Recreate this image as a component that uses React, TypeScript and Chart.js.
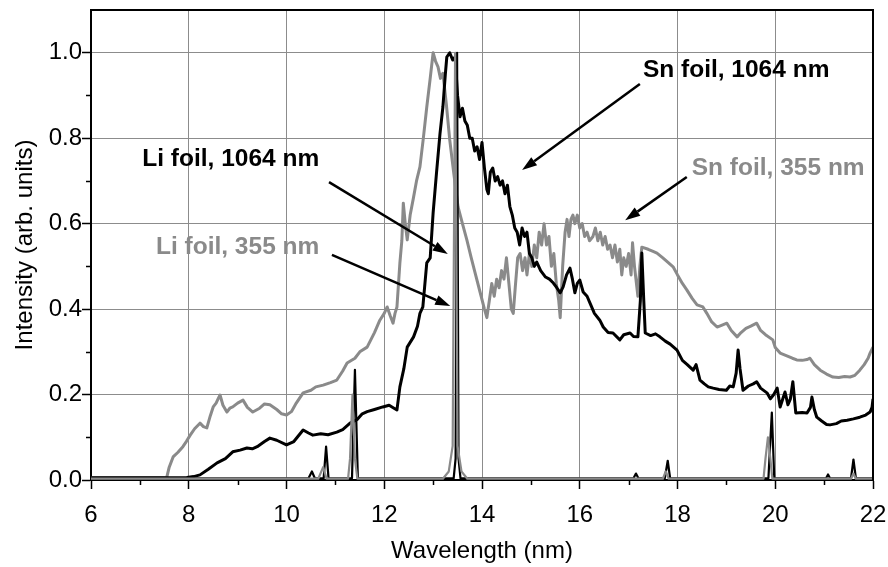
import React, { useEffect, useRef } from 'react';
import { Chart, registerables } from 'chart.js';

Chart.register(...registerables);

const FONT = "'Liberation Sans', Arial, Helvetica, sans-serif";
const GRAY = '#8a8a8a';

// Wavelength (nm) / normalised intensity pairs
const snFoil1064: [number, number][] = [
  [6.0, 0.005], [7.0, 0.005], [7.96, 0.006], [8.1, 0.008], [8.23, 0.012], [8.4, 0.025], [8.58, 0.04],
  [8.75, 0.05], [8.9, 0.066], [9.05, 0.07], [9.19, 0.075], [9.3, 0.073], [9.4, 0.078], [9.55, 0.09],
  [9.66, 0.098], [9.8, 0.093], [10.0, 0.082], [10.15, 0.09], [10.34, 0.117], [10.45, 0.11], [10.54, 0.105],
  [10.7, 0.108], [10.85, 0.106], [11.03, 0.112], [11.15, 0.118], [11.3, 0.133], [11.45, 0.142], [11.55, 0.155],
  [11.65, 0.16], [11.8, 0.165], [11.97, 0.171], [12.1, 0.175], [12.2, 0.168], [12.26, 0.164], [12.32, 0.218],
  [12.4, 0.26], [12.47, 0.311], [12.6, 0.335], [12.68, 0.36], [12.73, 0.39], [12.79, 0.405], [12.87, 0.508],
  [12.94, 0.52], [13.0, 0.625], [13.07, 0.72], [13.14, 0.81], [13.2, 0.873], [13.25, 0.95], [13.28, 0.99],
  [13.34, 1.0], [13.4, 0.983], [13.45, 0.99], [13.5, 0.9], [13.55, 0.85], [13.6, 0.87], [13.65, 0.84],
  [13.7, 0.83], [13.75, 0.8], [13.8, 0.8], [13.85, 0.77], [13.9, 0.78], [13.95, 0.75], [14.0, 0.79],
  [14.05, 0.73], [14.1, 0.68], [14.13, 0.67], [14.17, 0.72], [14.22, 0.73], [14.27, 0.7], [14.32, 0.71],
  [14.37, 0.69], [14.42, 0.7], [14.47, 0.67], [14.52, 0.69], [14.57, 0.64], [14.62, 0.62], [14.67, 0.59],
  [14.72, 0.58], [14.77, 0.55], [14.82, 0.59], [14.87, 0.57], [14.92, 0.58], [14.97, 0.53], [15.02, 0.52],
  [15.07, 0.5], [15.12, 0.51], [15.2, 0.49], [15.3, 0.475], [15.38, 0.47], [15.46, 0.461], [15.53, 0.45],
  [15.6, 0.438], [15.66, 0.452], [15.73, 0.48], [15.8, 0.496], [15.85, 0.47], [15.9, 0.438], [15.95, 0.46],
  [16.0, 0.468], [16.07, 0.44], [16.15, 0.43], [16.21, 0.414], [16.3, 0.39], [16.41, 0.374], [16.48, 0.358],
  [16.58, 0.345], [16.68, 0.344], [16.82, 0.328], [16.9, 0.34], [17.03, 0.344], [17.1, 0.336], [17.19, 0.335],
  [17.24, 0.42], [17.27, 0.531], [17.31, 0.42], [17.34, 0.344], [17.45, 0.338], [17.55, 0.342], [17.64, 0.335],
  [17.75, 0.325], [17.85, 0.318], [17.99, 0.304], [18.1, 0.28], [18.2, 0.27], [18.32, 0.257], [18.38, 0.27],
  [18.46, 0.234], [18.55, 0.225], [18.63, 0.218], [18.73, 0.215], [18.85, 0.212], [19.0, 0.21], [19.07, 0.22],
  [19.14, 0.218], [19.2, 0.25], [19.24, 0.304], [19.28, 0.26], [19.34, 0.21], [19.45, 0.22], [19.55, 0.225],
  [19.62, 0.23], [19.7, 0.215], [19.83, 0.204], [19.9, 0.19], [19.97, 0.2], [20.04, 0.215], [20.1, 0.171],
  [20.2, 0.206], [20.26, 0.176], [20.31, 0.19], [20.36, 0.23], [20.42, 0.157], [20.55, 0.158], [20.65, 0.157],
  [20.72, 0.17], [20.75, 0.194], [20.8, 0.165], [20.85, 0.147], [20.95, 0.138], [21.05, 0.13], [21.12, 0.129],
  [21.25, 0.132], [21.35, 0.138], [21.47, 0.14], [21.6, 0.143], [21.73, 0.147], [21.85, 0.152], [21.94, 0.159],
  [21.98, 0.17], [22.0, 0.19],
];

const snFoil355: [number, number][] = [
  [6.0, 0.005], [7.0, 0.005], [7.5, 0.005], [7.55, 0.006], [7.6, 0.03], [7.68, 0.054], [7.78, 0.065],
  [7.88, 0.078], [7.95, 0.09], [8.03, 0.105], [8.12, 0.12], [8.23, 0.133], [8.3, 0.125], [8.37, 0.122],
  [8.44, 0.15], [8.5, 0.171], [8.56, 0.18], [8.6, 0.19], [8.64, 0.199], [8.7, 0.175], [8.78, 0.159],
  [8.84, 0.168], [8.9, 0.171], [9.0, 0.18], [9.11, 0.187], [9.2, 0.17], [9.31, 0.159], [9.45, 0.168],
  [9.55, 0.178], [9.66, 0.176], [9.8, 0.165], [9.9, 0.155], [10.0, 0.152], [10.1, 0.16], [10.2, 0.18],
  [10.34, 0.204], [10.5, 0.21], [10.6, 0.218], [10.75, 0.222], [10.9, 0.228], [11.03, 0.234], [11.15, 0.255],
  [11.24, 0.274], [11.4, 0.285], [11.5, 0.3], [11.65, 0.311], [11.8, 0.345], [11.91, 0.374], [12.0, 0.39],
  [12.06, 0.405], [12.12, 0.385], [12.18, 0.367], [12.22, 0.39], [12.26, 0.405], [12.32, 0.508], [12.36, 0.56],
  [12.39, 0.648], [12.43, 0.6], [12.47, 0.562], [12.53, 0.62], [12.6, 0.662], [12.66, 0.7], [12.73, 0.733],
  [12.8, 0.8], [12.87, 0.873], [12.94, 0.94], [13.0, 1.0], [13.05, 0.98], [13.1, 0.967], [13.15, 0.94],
  [13.2, 0.952], [13.27, 0.88], [13.34, 0.796], [13.42, 0.72], [13.51, 0.639], [13.6, 0.6], [13.69, 0.562],
  [13.78, 0.52], [13.86, 0.484], [13.96, 0.44], [14.05, 0.4], [14.1, 0.38], [14.15, 0.42], [14.2, 0.46],
  [14.25, 0.43], [14.3, 0.47], [14.35, 0.45], [14.4, 0.49], [14.45, 0.47], [14.5, 0.52], [14.55, 0.46],
  [14.6, 0.4], [14.64, 0.39], [14.68, 0.45], [14.73, 0.52], [14.78, 0.53], [14.83, 0.49], [14.88, 0.52],
  [14.92, 0.48], [14.97, 0.53], [15.02, 0.5], [15.07, 0.55], [15.12, 0.52], [15.17, 0.58], [15.22, 0.55],
  [15.27, 0.6], [15.32, 0.55], [15.37, 0.57], [15.42, 0.5], [15.47, 0.53], [15.52, 0.46], [15.57, 0.42],
  [15.6, 0.38], [15.65, 0.5], [15.7, 0.58], [15.74, 0.61], [15.78, 0.57], [15.82, 0.61], [15.86, 0.62],
  [15.9, 0.6], [15.95, 0.62], [16.0, 0.59], [16.05, 0.6], [16.1, 0.57], [16.15, 0.58], [16.2, 0.56],
  [16.27, 0.57], [16.32, 0.59], [16.37, 0.56], [16.42, 0.58], [16.47, 0.55], [16.52, 0.57], [16.57, 0.54],
  [16.62, 0.55], [16.67, 0.52], [16.72, 0.55], [16.77, 0.51], [16.82, 0.54], [16.86, 0.48], [16.9, 0.52],
  [16.95, 0.5], [17.0, 0.53], [17.05, 0.48], [17.08, 0.555], [17.12, 0.5], [17.16, 0.46], [17.19, 0.43],
  [17.23, 0.5], [17.27, 0.545], [17.4, 0.54], [17.5, 0.535], [17.58, 0.531], [17.7, 0.52], [17.8, 0.51],
  [17.91, 0.499], [18.0, 0.48], [18.1, 0.46], [18.19, 0.445], [18.3, 0.425], [18.4, 0.41], [18.52, 0.405],
  [18.6, 0.39], [18.7, 0.37], [18.81, 0.358], [18.9, 0.362], [19.01, 0.367], [19.1, 0.35], [19.22, 0.335],
  [19.3, 0.345], [19.4, 0.355], [19.5, 0.36], [19.62, 0.367], [19.7, 0.35], [19.8, 0.34], [19.95, 0.328],
  [20.0, 0.31], [20.1, 0.297], [20.25, 0.29], [20.35, 0.285], [20.44, 0.281], [20.55, 0.28], [20.65, 0.282],
  [20.71, 0.285], [20.8, 0.27], [20.92, 0.257], [21.05, 0.248], [21.18, 0.241], [21.3, 0.24], [21.42, 0.242],
  [21.53, 0.241], [21.63, 0.245], [21.73, 0.257], [21.82, 0.27], [21.9, 0.285], [21.94, 0.297], [22.0, 0.311],
];

const liFoil1064: [number, number][] = [
  [6.0, 0.004], [10.45, 0.004], [10.52, 0.02], [10.58, 0.004], [10.76, 0.004], [10.81, 0.078], [10.86, 0.004],
  [11.34, 0.004], [11.4, 0.258], [11.46, 0.004], [13.42, 0.004], [13.46, 0.05], [13.49, 1.0], [13.52, 0.05],
  [13.56, 0.004], [17.1, 0.004], [17.15, 0.015], [17.2, 0.004], [17.74, 0.004], [17.8, 0.045], [17.85, 0.004],
  [19.86, 0.004], [19.93, 0.158], [19.98, 0.004], [21.04, 0.004], [21.08, 0.013], [21.12, 0.004],
  [21.55, 0.004], [21.6, 0.048], [21.65, 0.004], [22.0, 0.004],
];

const liFoil355: [number, number][] = [
  [6.0, 0.003], [10.65, 0.003], [10.75, 0.03], [10.82, 0.003], [11.26, 0.003], [11.3, 0.05], [11.35, 0.2],
  [11.4, 0.05], [11.45, 0.003], [13.2, 0.003], [13.32, 0.02], [13.4, 0.08], [13.45, 1.0], [13.5, 0.08],
  [13.58, 0.02], [13.7, 0.003], [17.7, 0.003], [17.76, 0.02], [17.82, 0.003], [19.76, 0.003], [19.8, 0.05],
  [19.85, 0.1], [19.9, 0.05], [19.94, 0.003], [21.55, 0.003], [21.6, 0.015], [21.65, 0.003], [22.0, 0.003],
];

// Axis settings
const xMin = 6, xMax = 22, xMajor = 2, xMinor = 1;
const yMin = 0, yMax = 1.1, yMajor = 0.2, yMinor = 0.1;
const xTitle = 'Wavelength (nm)';
const yTitle = 'Intensity (arb. units)';

// Labels (text, centre x in nm, centre y in intensity, colour)
const labelTexts = ['Sn foil, 1064 nm', 'Sn foil, 355 nm', 'Li foil, 1064 nm', 'Li foil, 355 nm'];
const labelX = [19.2, 20.06, 8.86, 9.0];
const labelY = [0.96, 0.73, 0.75, 0.545];
const labelColors = ['#000000', GRAY, '#000000', GRAY];

// Arrows (start -> head) in data units
const arrowFromX = [17.23, 18.19, 10.87, 10.93];
const arrowFromY = [0.927, 0.709, 0.697, 0.527];
const arrowToX = [14.82, 16.93, 13.3, 13.35];
const arrowToY = [0.7255, 0.608, 0.529, 0.407];

const toPts = (arr: [number, number][]) => arr.map(([x, y]) => ({ x, y }));

const framePlugin = {
  id: 'frameAndNotes',
  afterDatasetsDraw(chart: any) {
    const { ctx, scales } = chart;
    const xs = scales.x, ys = scales.y;
    ctx.save();
    ctx.strokeStyle = '#000';
    ctx.fillStyle = '#000';
    ctx.lineWidth = 2.5;
    for (let i = 0; i < arrowFromX.length; i++) {
      const x1 = xs.getPixelForValue(arrowFromX[i]);
      const y1 = ys.getPixelForValue(arrowFromY[i]);
      const x2 = xs.getPixelForValue(arrowToX[i]);
      const y2 = ys.getPixelForValue(arrowToY[i]);
      const ang = Math.atan2(y2 - y1, x2 - x1);
      const hl = 15, hw = 5;
      const bx = x2 - hl * Math.cos(ang), by = y2 - hl * Math.sin(ang);
      ctx.beginPath();
      ctx.moveTo(x1, y1);
      ctx.lineTo(bx, by);
      ctx.stroke();
      ctx.beginPath();
      ctx.moveTo(x2, y2);
      ctx.lineTo(bx + hw * Math.sin(ang), by - hw * Math.cos(ang));
      ctx.lineTo(bx - hw * Math.sin(ang), by + hw * Math.cos(ang));
      ctx.closePath();
      ctx.fill();
    }
    ctx.font = `bold 24.5px ${FONT}`;
    ctx.textAlign = 'center';
    ctx.textBaseline = 'middle';
    for (let i = 0; i < labelTexts.length; i++) {
      ctx.fillStyle = labelColors[i];
      ctx.fillText(labelTexts[i], xs.getPixelForValue(labelX[i]), ys.getPixelForValue(labelY[i]));
    }
    ctx.restore();
  },
  afterDraw(chart: any) {
    const { ctx, chartArea, scales } = chart;
    const xs = scales.x, ys = scales.y;
    ctx.save();
    ctx.strokeStyle = '#000';
    ctx.lineWidth = 2;
    ctx.beginPath();
    ctx.moveTo(chartArea.left, chartArea.top);
    ctx.lineTo(chartArea.right, chartArea.top);
    ctx.lineTo(chartArea.right, chartArea.bottom);
    ctx.stroke();
    ctx.lineWidth = 1.5;
    ctx.beginPath();
    for (let v = xMin + xMinor; v < xMax; v += xMajor) {
      const px = Math.round(xs.getPixelForValue(v)) + 0.5;
      ctx.moveTo(px, chartArea.bottom);
      ctx.lineTo(px, chartArea.bottom + 5);
    }
    for (let v = yMin + yMinor; v < 1.0 + 1e-6; v += yMajor) {
      const py = Math.round(ys.getPixelForValue(v)) + 0.5;
      ctx.moveTo(chartArea.left, py);
      ctx.lineTo(chartArea.left - 5, py);
    }
    ctx.stroke();
    ctx.restore();
  },
};

export default function App() {
  const ref = useRef<HTMLCanvasElement | null>(null);
  useEffect(() => {
    if (!ref.current) return;
    const chart = new Chart(ref.current, {
      type: 'line',
      data: {
        datasets: [
          { label: 'Li foil, 355 nm', data: toPts(liFoil355), borderColor: GRAY, borderWidth: 2.2 },
          { label: 'Li foil, 1064 nm', data: toPts(liFoil1064), borderColor: '#000', borderWidth: 2.2 },
          { label: 'Sn foil, 1064 nm', data: toPts(snFoil1064), borderColor: '#000', borderWidth: 3 },
          { label: 'Sn foil, 355 nm', data: toPts(snFoil355), borderColor: GRAY, borderWidth: 3 },
        ] as any,
      },
      options: {
        animation: false,
        responsive: false,
        parsing: false as any,
        elements: { point: { radius: 0 }, line: { tension: 0, fill: false, borderJoinStyle: 'round' } },
        layout: { padding: { left: 0, top: 10, right: 15, bottom: 0 } },
        plugins: { legend: { display: false }, tooltip: { enabled: false } },
        scales: {
          x: {
            type: 'linear',
            min: xMin,
            max: xMax,
            afterFit: (s: any) => { s.height = 87; s.paddingLeft = 0; s.paddingRight = 0; },
            ticks: {
              stepSize: xMajor,
              color: '#000',
              font: { family: FONT, size: 24 },
              padding: 12,
              maxRotation: 0,
            },
            grid: { color: '#8c8c8c', lineWidth: 1, tickColor: '#000', tickLength: 9, tickWidth: 1.5 },
            border: { color: '#000', width: 2 },
            title: { display: true, text: xTitle, color: '#000', font: { family: FONT, size: 24 }, padding: { top: 0, bottom: 1 } },
          },
          y: {
            type: 'linear',
            min: yMin,
            max: yMax,
            afterFit: (s: any) => { s.width = 91; s.paddingTop = 0; s.paddingBottom = 0; },
            ticks: {
              stepSize: yMajor,
              includeBounds: false,
              color: '#000',
              font: { family: FONT, size: 24 },
              padding: 0,
              callback: (v: any) => Number(v).toFixed(1),
            },
            grid: { color: '#8c8c8c', lineWidth: 1, tickColor: '#000', tickLength: 9, tickWidth: 1.5 },
            border: { color: '#000', width: 2 },
            title: { display: true, text: yTitle, color: '#000', font: { family: FONT, size: 24 }, padding: { top: 11, bottom: 0 } },
          },
        },
      } as any,
      plugins: [framePlugin],
    });
    return () => chart.destroy();
  }, []);
  return (
    <div style={{ position: 'fixed', left: 0, top: 0, width: 888, height: 567, background: '#fff' }}>
      <canvas ref={ref} width={888} height={567} />
    </div>
  );
}
